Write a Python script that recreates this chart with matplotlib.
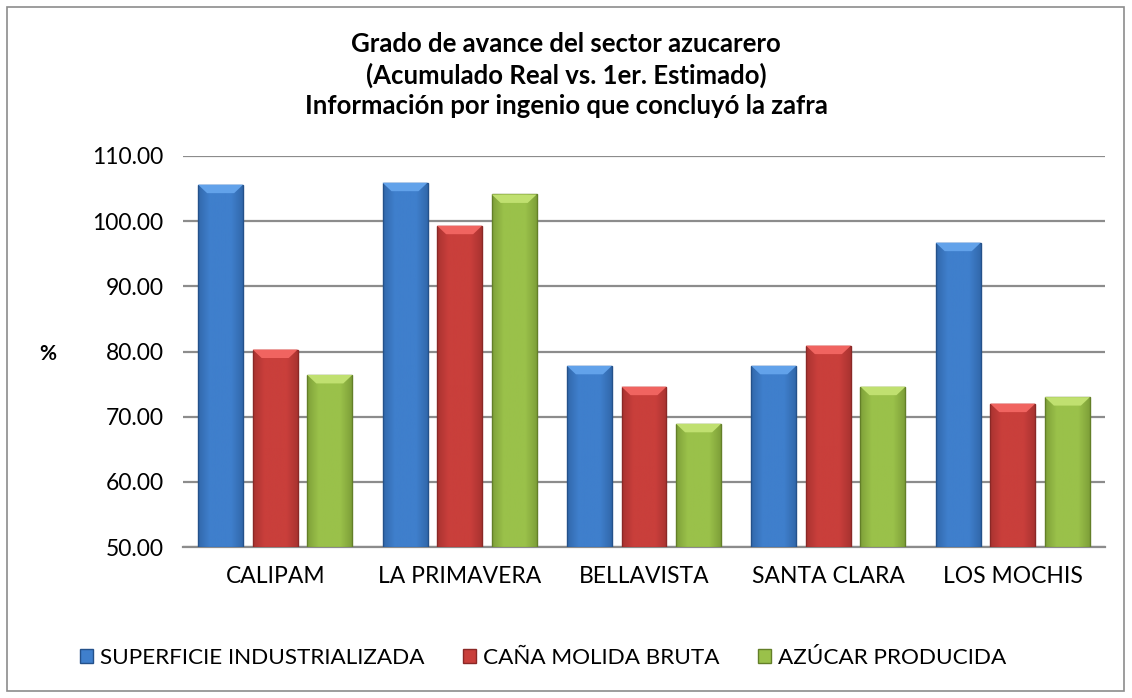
import matplotlib.pyplot as plt
import numpy as np
from matplotlib.patches import Rectangle, Polygon
import matplotlib.colors as mcolors

# ingenios y porcentajes
ingenios = ['CALIPAM', 'LA PRIMAVERA', 'BELLAVISTA', 'SANTA CLARA', 'LOS MOCHIS']
superficie = [105.6, 105.9, 77.8, 77.8, 96.7]
cana = [80.3, 99.3, 74.6, 80.9, 72.0]
azucar = [76.4, 104.1, 68.9, 74.6, 73.0]
series = ['SUPERFICIE INDUSTRIALIZADA', 'CAÑA MOLIDA BRUTA', 'AZÚCAR PRODUCIDA']
yticks = [50, 60, 70, 80, 90, 100, 110]

colors = ['#3F7FCC', '#C93F3B', '#9AC14A']
darks = ['#24518A', '#8A2826', '#637F28']
lights = ['#62A2EA', '#F06460', '#C0E070']

plt.rcParams['font.family'] = ['Lato', 'DejaVu Sans']

fig = plt.figure(figsize=(11.32, 6.98), dpi=100)
ax = fig.add_axes([183/1132, 1 - 547/698, 922/1132, 391/698])

x = np.arange(len(ingenios))
width = 0.244
step = 0.296
data = [superficie, cana, azucar]

for k, vals in enumerate(data):
    bars = ax.bar(x + (k - 1) * step, [v - 50 for v in vals], width, bottom=50,
                  color=colors[k], edgecolor=darks[k], linewidth=1.0, zorder=3,
                  label=series[k])
    # horizontal shading inside each bar
    cmap = mcolors.LinearSegmentedColormap.from_list('c', [darks[k], colors[k], colors[k], colors[k], darks[k]])
    grad = np.linspace(0, 1, 64).reshape(1, -1)
    for b in bars:
        x0, w, h = b.get_x(), b.get_width(), b.get_height()
        im = ax.imshow(grad, extent=[x0, x0 + w, 50, 50 + h], aspect='auto',
                       cmap=cmap, alpha=0.5, zorder=3.5)
        im.set_clip_path(b)
        # bevel on top
        top = 50 + h
        ax.add_patch(Polygon([(x0, top), (x0 + w, top), (x0 + w * 0.8, top - 1.3),
                              (x0 + w * 0.2, top - 1.3)], closed=True,
                             facecolor=lights[k], edgecolor='none', zorder=4))

ax.set_xlim(-0.5, 4.5)
ax.set_ylim(50, 110)
ax.set_yticks(yticks)
ax.set_yticklabels([f'{t:.2f}' for t in yticks])
ax.set_xticks(x)
ax.set_xticklabels(ingenios)
ax.yaxis.grid(True, color='#8C8C8C', linewidth=1.6, zorder=0)
ax.set_axisbelow(True)
for s in ['top', 'right', 'left']:
    ax.spines[s].set_visible(False)
ax.spines['bottom'].set_color('#8C8C8C')
ax.spines['bottom'].set_linewidth(1.6)
ax.tick_params(axis='both', length=0, labelsize=16.5, colors='black')
ax.tick_params(axis='y', pad=14)
ax.tick_params(axis='x', pad=14)

fig.text(48/1132, 1 - 354/698, '%', fontsize=15, fontweight='bold', ha='center', va='center')

fig.text(0.5, 1 - 75/698, 'Grado de avance del sector azucarero\n(Acumulado Real vs. 1er. Estimado)\nInformación por ingenio que concluyó la zafra',
         ha='center', va='center', fontsize=18.5, fontweight='bold', linespacing=1.3)

fig.legend(loc='center', bbox_to_anchor=(543/1132, 1 - 658/698), ncol=3, frameon=False,
           fontsize=16.2, handlelength=0.6, handleheight=0.6, handletextpad=0.3,
           columnspacing=1.7)

fig.patches.append(Rectangle((7/1132, 7/698), 1117/1132, 684/698, transform=fig.transFigure,
                             fill=False, edgecolor='#8C8C8C', linewidth=1.2))

fig.savefig('out.png', dpi=100)
